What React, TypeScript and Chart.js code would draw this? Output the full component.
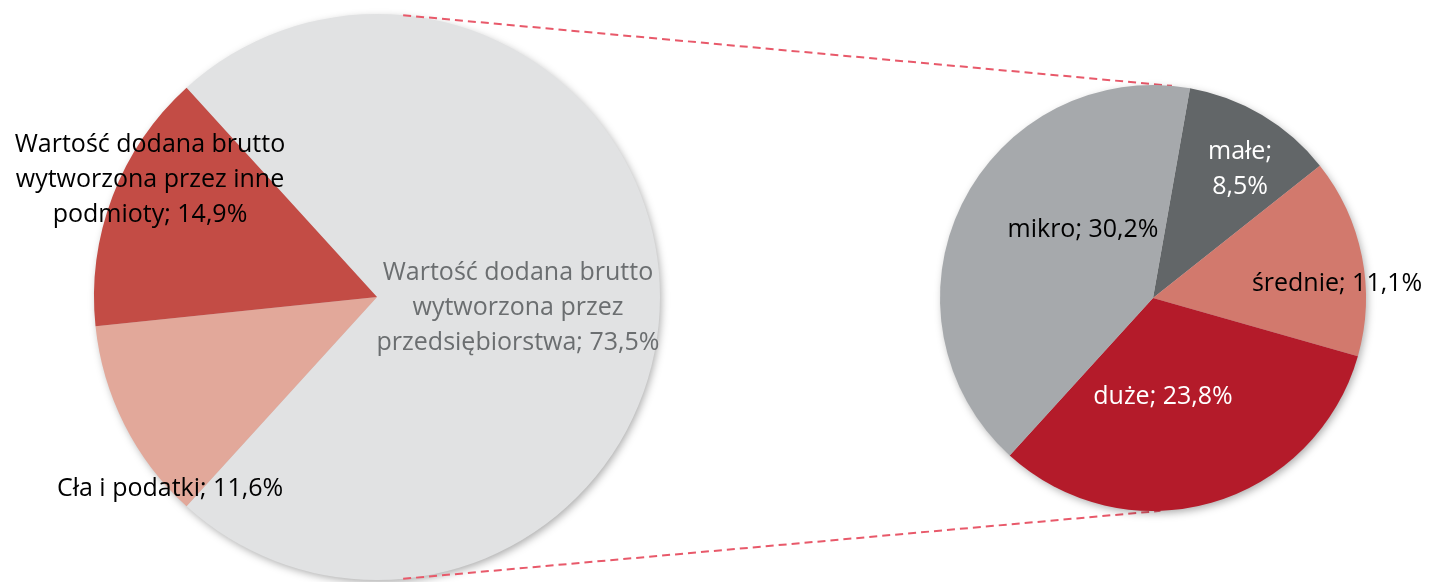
import React, { useEffect, useRef } from "react";
import { Chart, registerables } from "chart.js";

Chart.register(...registerables);

// Left pie (total)
const mainLabels = [
  "Wartość dodana brutto wytworzona przez przedsiębiorstwa",
  "Cła i podatki",
  "Wartość dodana brutto wytworzona przez inne podmioty",
];
const mainValues = [73.5, 11.6, 14.9];
const mainColors = ["#E1E2E3", "#E2A89A", "#C34C45"];

// Right pie (breakdown of enterprises)
const subLabels = ["małe", "średnie", "duże", "mikro"];
const subValues = [8.5, 11.1, 23.8, 30.2];
const subColors = ["#626668", "#D2796D", "#B41B2A", "#A6A9AC"];

const FONT = "'Open Sans', 'Noto Sans', sans-serif";
const FONT_SIZE = 25;
const LINE_H = 35;

type Lbl = { lines: string[]; dx: number; dy: number; color: string };

// offsets relative to each pie's centre
const mainTextLabels: Lbl[] = [
  { lines: ["Wartość dodana brutto", "wytworzona przez", "przedsiębiorstwa; 73,5%"], dx: 141, dy: 11, color: "#6B6E70" },
  { lines: ["Cła i podatki; 11,6%"], dx: -207, dy: 192, color: "#000000" },
  { lines: ["Wartość dodana brutto", "wytworzona przez inne", "podmioty; 14,9%"], dx: -227, dy: -117, color: "#000000" },
];
const subTextLabels: Lbl[] = [
  { lines: ["małe;", "8,5%"], dx: 87, dy: -129, color: "#FFFFFF" },
  { lines: ["średnie; 11,1%"], dx: 184, dy: -14, color: "#000000" },
  { lines: ["duże; 23,8%"], dx: 10, dy: 99, color: "#FFFFFF" },
  { lines: ["mikro; 30,2%"], dx: -70, dy: -68, color: "#000000" },
];

function pieGeom(chart: any) {
  const arc = chart.getDatasetMeta(0).data[0];
  return { x: arc.x, y: arc.y, r: arc.outerRadius };
}

function makeShadowPlugin(id: string) {
  return {
    id,
    beforeDatasetsDraw(chart: any) {
      const { x, y, r } = pieGeom(chart);
      const ctx = chart.ctx;
      ctx.save();
      ctx.shadowColor = "rgba(0,0,0,0.35)";
      ctx.shadowBlur = 8;
      ctx.shadowOffsetX = 2;
      ctx.shadowOffsetY = 3;
      ctx.fillStyle = "#cccccc";
      ctx.beginPath();
      ctx.arc(x, y, r - 1, 0, Math.PI * 2);
      ctx.fill();
      ctx.restore();
    },
  };
}

function makeLabelPlugin(id: string, labels: Lbl[]) {
  return {
    id,
    afterDatasetsDraw(chart: any) {
      const { x, y } = pieGeom(chart);
      const ctx = chart.ctx;
      ctx.save();
      ctx.font = `${FONT_SIZE}px ${FONT}`;
      ctx.textAlign = "center";
      ctx.textBaseline = "middle";
      labels.forEach((l) => {
        ctx.fillStyle = l.color;
        const n = l.lines.length;
        l.lines.forEach((t, i) => {
          ctx.fillText(t, x + l.dx, y + l.dy + (i - (n - 1) / 2) * LINE_H);
        });
      });
      ctx.restore();
    },
  };
}

export default function App() {
  const leftRef = useRef<HTMLCanvasElement>(null);
  const rightRef = useRef<HTMLCanvasElement>(null);

  useEffect(() => {
    const W = 1429;
    const H = 582;
    const left = new Chart(leftRef.current!, {
      type: "pie",
      data: {
        labels: mainLabels,
        datasets: [{ data: mainValues, backgroundColor: mainColors, borderWidth: 0 }],
      },
      options: {
        animation: false,
        responsive: false,
        devicePixelRatio: 1,
        rotation: -42.3,
        layout: { padding: { left: 94, right: W - 660, top: 14, bottom: H - 580 } },
        plugins: { legend: { display: false }, tooltip: { enabled: false } },
      },
      plugins: [makeShadowPlugin("shadowL"), makeLabelPlugin("labelsL", mainTextLabels)],
    });

    const connector = {
      id: "connector",
      beforeDatasetsDraw(chart: any) {
        const a = pieGeom(left);
        const b = pieGeom(chart);
        const ctx = chart.ctx;
        const deg = Math.PI / 180;
        const pts = [
          [a.x + a.r * Math.cos(-84.7 * deg), a.y + a.r * Math.sin(-84.7 * deg), b.x + b.r * Math.cos(-84.9 * deg), b.y + b.r * Math.sin(-84.9 * deg)],
          [a.x + a.r * Math.cos(84.7 * deg), a.y + a.r * Math.sin(84.7 * deg), b.x + b.r * Math.cos(88 * deg), b.y + b.r * Math.sin(88 * deg)],
        ];
        ctx.save();
        ctx.strokeStyle = "#E8596A";
        ctx.lineWidth = 2;
        ctx.setLineDash([8, 5]);
        pts.forEach(([x1, y1, x2, y2]) => {
          ctx.beginPath();
          ctx.moveTo(x1, y1);
          ctx.lineTo(x2, y2);
          ctx.stroke();
        });
        ctx.restore();
      },
    };

    const right = new Chart(rightRef.current!, {
      type: "pie",
      data: {
        labels: subLabels,
        datasets: [{ data: subValues, backgroundColor: subColors, borderWidth: 0 }],
      },
      options: {
        animation: false,
        responsive: false,
        devicePixelRatio: 1,
        rotation: 10,
        layout: { padding: { left: 940, right: W - 1366, top: 85, bottom: H - 511 } },
        plugins: { legend: { display: false }, tooltip: { enabled: false } },
      },
      plugins: [connector, makeShadowPlugin("shadowR"), makeLabelPlugin("labelsR", subTextLabels)],
    });

    return () => {
      left.destroy();
      right.destroy();
    };
  }, []);

  const cs: React.CSSProperties = { position: "absolute", left: 0, top: 0, width: 1429, height: 582 };
  return (
    <div style={{ position: "fixed", left: 0, top: 0, width: 1429, height: 582, background: "#ffffff" }}>
      <canvas ref={leftRef} width={1429} height={582} style={cs} />
      <canvas ref={rightRef} width={1429} height={582} style={cs} />
    </div>
  );
}
